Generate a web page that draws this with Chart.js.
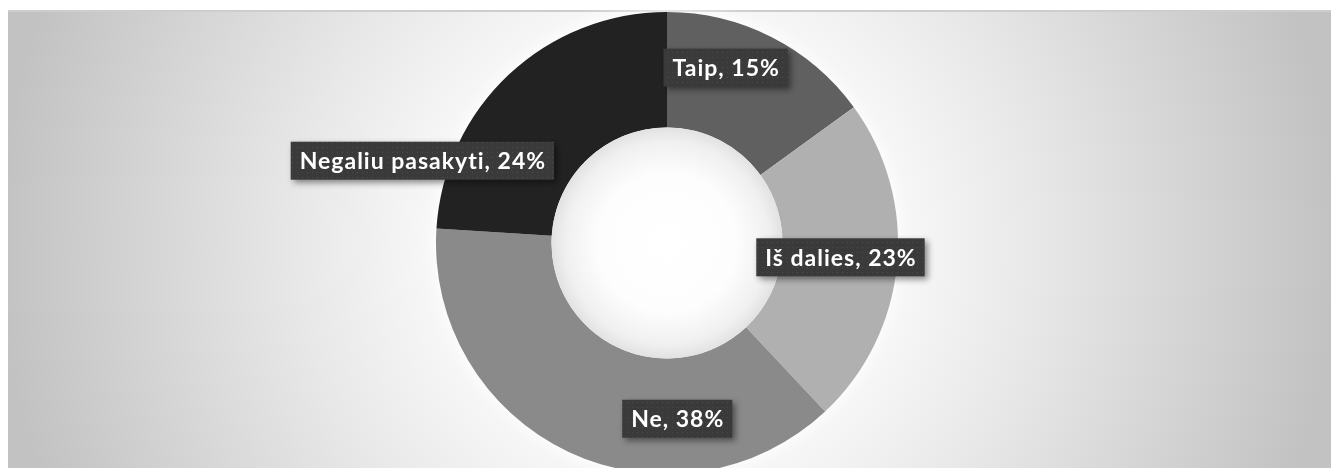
<!DOCTYPE html>
<html>
<head>
<meta charset="utf-8">
<script src="https://cdn.jsdelivr.net/npm/chart.js@4"></script>
<style>
    html, body { margin: 0; padding: 0; background: #ffffff; overflow: hidden; }
    #wrap { position: relative; width: 1331px; height: 468px; overflow: hidden; }
    #pie { display: block; }
</style>
</head>
<body>
<div id="wrap">
    <canvas id="pie" width="1331" height="480"></canvas>
</div>
<script>
// Atsakymai ir jų dalys (%)
const labels = ['Taip', 'Iš dalies', 'Ne', 'Negaliu pasakyti'];
const values = [15, 23, 38, 24];
const colors = ['#606060', '#b0b0b0', '#8a8a8a', '#222222'];

// etikečių poslinkis nuo sektoriaus vidurio (px)
const labelNudge = [[-20, -21], [1, -2], [84, 19], [-126, 44]];

// dėžutės raštas: tamsus fonas su šviesesniais taškais
function dotPattern(ctx) {
    const c = document.createElement('canvas');
    c.width = 5; c.height = 5;
    const p = c.getContext('2d');
    p.fillStyle = '#3a3a3a';
    p.fillRect(0, 0, 5, 5);
    p.fillStyle = '#4c4c4c';
    p.fillRect(2, 2, 1, 1);
    return ctx.createPattern(c, 'repeat');
}

const backdrop = {
    id: 'backdrop',
    beforeDraw(chart) {
        const ctx = chart.ctx;
        const w = chart.width, h = chart.height;
        const cx = 667, cy = 243;
        ctx.save();
        const g = ctx.createRadialGradient(cx, cy, 0, cx, cy, 670);
        g.addColorStop(0, '#ffffff');
        g.addColorStop(0.3, '#fbfbfb');
        g.addColorStop(0.55, '#e8e8e8');
        g.addColorStop(1, '#c2c2c2');
        ctx.fillStyle = g;
        ctx.fillRect(8, 10, w - 8, h - 10);
        ctx.fillStyle = '#cdcdcd';
        ctx.fillRect(8, 10, w - 8, 2);
        ctx.restore();
    },
    beforeDatasetsDraw(chart) {
        // šviesus švytėjimas aplink žiedą
        const arc = chart.getDatasetMeta(0).data[0];
        const ctx = chart.ctx;
        ctx.save();
        ctx.beginPath();
        ctx.arc(arc.x, arc.y, arc.outerRadius, 0, Math.PI * 2);
        ctx.shadowColor = 'rgba(255,255,255,1)';
        ctx.shadowBlur = 18;
        ctx.fillStyle = '#ffffff';
        ctx.fill();
        ctx.restore();
    },
    afterDatasetsDraw(chart) {
        // vidinis šešėlis skylėje
        const arc = chart.getDatasetMeta(0).data[0];
        const ctx = chart.ctx;
        const r = arc.innerRadius;
        ctx.save();
        const g = ctx.createRadialGradient(arc.x, arc.y, 0, arc.x, arc.y, r);
        g.addColorStop(0, '#ffffff');
        g.addColorStop(0.6, '#fdfdfd');
        g.addColorStop(0.88, '#f0f0f0');
        g.addColorStop(1, '#e2e2e2');
        ctx.beginPath();
        ctx.arc(arc.x, arc.y, r, 0, Math.PI * 2);
        ctx.fillStyle = g;
        ctx.fill();
        ctx.restore();
    }
};

const boxLabels = {
    id: 'boxLabels',
    afterDraw(chart) {
        const ctx = chart.ctx;
        const meta = chart.getDatasetMeta(0);
        const pattern = dotPattern(ctx);
        ctx.save();
        ctx.font = 'bold 23px Lato';
        ctx.letterSpacing = '1px';
        ctx.textAlign = 'center';
        ctx.textBaseline = 'middle';
        meta.data.forEach((el, i) => {
            const pt = el.getCenterPoint();
            const x = pt.x + labelNudge[i][0];
            const y = pt.y + labelNudge[i][1];
            const text = labels[i] + ', ' + values[i] + '%';
            const tw = ctx.measureText(text).width;
            const bw = tw + 17, bh = 38;

            ctx.save();
            ctx.shadowColor = 'rgba(0,0,0,0.45)';
            ctx.shadowBlur = 6;
            ctx.shadowOffsetX = 3;
            ctx.shadowOffsetY = 3;
            ctx.fillStyle = pattern;
            ctx.fillRect(x - bw / 2, y - bh / 2, bw, bh);
            ctx.restore();

            ctx.fillStyle = '#ffffff';
            ctx.fillText(text, x + 0.5, y + 1);
        });
        ctx.restore();
    }
};

new Chart(document.getElementById('pie'), {
    type: 'doughnut',
    data: {
        labels: labels,
        datasets: [{
            data: values,
            backgroundColor: colors,
            borderWidth: 0
        }]
    },
    options: {
        responsive: false,
        animation: false,
        cutout: '50%',
        layout: { padding: { top: 12, bottom: 6, left: 3, right: 0 } },
        plugins: {
            legend: { display: false },
            tooltip: { enabled: false }
        }
    },
    plugins: [backdrop, boxLabels]
});
</script>
</body>
</html>
